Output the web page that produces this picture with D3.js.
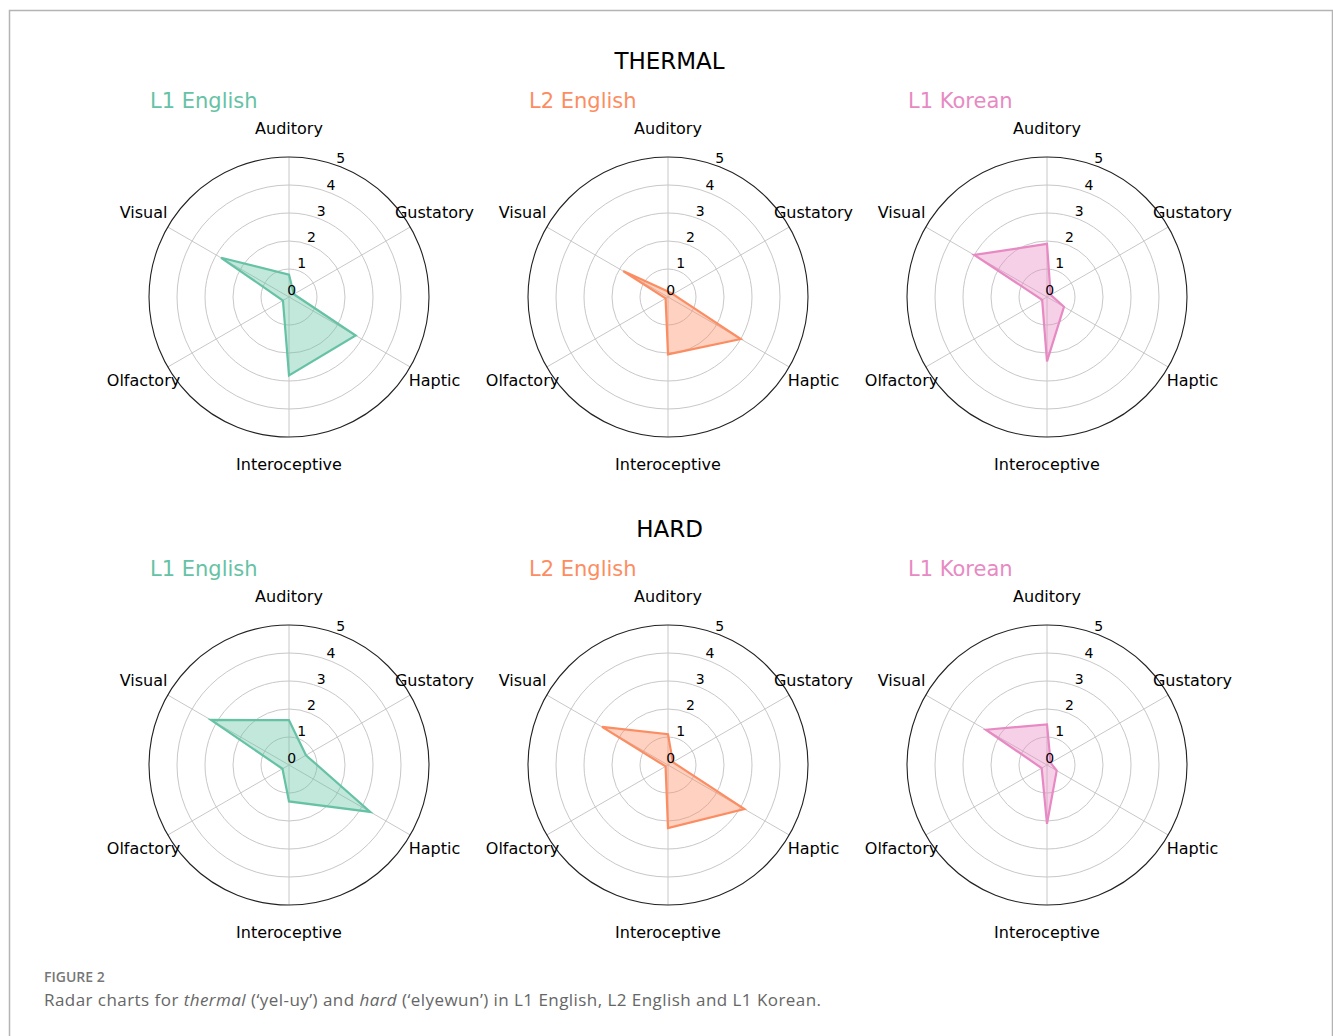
<!DOCTYPE html>
<html>
<head>
<meta charset="utf-8">
<script src="https://cdn.jsdelivr.net/npm/d3@7"></script>
<style>
  html, body { margin: 0; padding: 0; background: #fff; }
  svg { display: block; }
</style>
</head>
<body>
<svg id="fig" width="1333" height="1036"></svg>
<script>
// Sensory dimensions, clockwise from the top
const dimensions = ["Auditory", "Gustatory", "Haptic", "Interoceptive", "Olfactory", "Visual"];
const groups = ["L1 English", "L2 English", "L1 Korean"];
const groupColors = ["#66c2a5", "#fc8d62", "#e78ac3"];
const rTicks = [0, 1, 2, 3, 4, 5];

// Mean ratings per dimension (order as in `dimensions`)
const thermalL1English = [0.8, 0.2, 2.75, 2.8, 0.25, 2.8];
const thermalL2English = [0.2, 0.2, 3.0, 2.05, 0.1, 1.85];
const thermalL1Korean  = [1.9, 0.15, 0.7, 2.3, 0.2, 3.0];
const hardL1English    = [1.6, 0.7, 3.35, 1.3, 0.27, 3.22];
const hardL2English    = [1.1, 0.2, 3.15, 2.25, 0.1, 2.72];
const hardL1Korean     = [1.45, 0.15, 0.4, 2.1, 0.22, 2.52];

const panels = [
  { title: "THERMAL", series: [thermalL1English, thermalL2English, thermalL1Korean] },
  { title: "HARD",    series: [hardL1English, hardL2English, hardL1Korean] }
];

const svg = d3.select("#fig");
const W = 1333;
const R = 140;
const colX = [289, 668, 1047];
const rowY = [297, 765];
const axisFont = "'DejaVu Sans', sans-serif";

// Frame around the figure
svg.append("path")
  .attr("d", "M9.5,1036 V10.5 H1332.5 V1036")
  .attr("fill", "none")
  .attr("stroke", "#b4b4b4")
  .attr("stroke-width", 1.5);

const r = d3.scaleLinear().domain([0, 5]).range([0, R]);
const angle = d3.scalePoint().domain(dimensions).range([0, 2 * Math.PI * 5 / 6]);

const radial = d3.lineRadial()
  .angle((d, i) => angle(dimensions[i]))
  .radius(d => r(d))
  .curve(d3.curveLinearClosed);

panels.forEach((panel, row) => {
  svg.append("text")
    .attr("x", W / 2 + 3)
    .attr("y", rowY[row] - 236)
    .attr("text-anchor", "middle")
    .attr("dominant-baseline", "central")
    .attr("font-family", axisFont)
    .attr("font-size", 23)
    .attr("fill", "#000")
    .text(panel.title);

  panel.series.forEach((values, col) => {
    const g = svg.append("g")
      .attr("transform", `translate(${colX[col]},${rowY[row]})`);

    // group title, left aligned with the polar frame
    g.append("text")
      .attr("x", -R + 1)
      .attr("y", -196)
      .attr("dominant-baseline", "central")
      .attr("font-family", axisFont)
      .attr("font-size", 21)
      .attr("fill", groupColors[col])
      .text(groups[col]);

    // circular grid
    g.selectAll("circle.grid")
      .data(rTicks.filter(t => t > 0 && t < 5))
      .join("circle")
      .attr("class", "grid")
      .attr("r", d => r(d))
      .attr("fill", "none")
      .attr("stroke", "#c8c8c8")
      .attr("stroke-width", 1);

    // spokes
    g.selectAll("line.spoke")
      .data(dimensions)
      .join("line")
      .attr("class", "spoke")
      .attr("x1", 0).attr("y1", 0)
      .attr("x2", d => r(5) * Math.sin(angle(d)))
      .attr("y2", d => -r(5) * Math.cos(angle(d)))
      .attr("stroke", "#c8c8c8")
      .attr("stroke-width", 1);

    // outer boundary
    g.append("circle")
      .attr("r", r(5))
      .attr("fill", "none")
      .attr("stroke", "#222")
      .attr("stroke-width", 1.1);

    // data polygon
    g.append("path")
      .datum(values)
      .attr("d", radial)
      .attr("fill", groupColors[col])
      .attr("fill-opacity", 0.4)
      .attr("stroke", groupColors[col])
      .attr("stroke-width", 2.2)
      .attr("stroke-linejoin", "miter");

    // radial tick labels
    const tickAngle = 20.5 * Math.PI / 180;
    g.selectAll("text.rtick")
      .data(rTicks)
      .join("text")
      .attr("class", "rtick")
      .attr("x", d => (r(d) + 8) * Math.sin(tickAngle))
      .attr("y", d => -(r(d) + 8) * Math.cos(tickAngle))
      .attr("text-anchor", "middle")
      .attr("dominant-baseline", "central")
      .attr("font-family", axisFont)
      .attr("font-size", 14)
      .attr("fill", "#000")
      .text(d => d);

    // dimension labels
    g.selectAll("text.dim")
      .data(dimensions)
      .join("text")
      .attr("class", "dim")
      .attr("x", d => r(6) * Math.sin(angle(d)))
      .attr("y", d => -r(6) * Math.cos(angle(d)) - 0.5)
      .attr("text-anchor", "middle")
      .attr("dominant-baseline", "central")
      .attr("font-family", axisFont)
      .attr("font-size", 16)
      .attr("fill", "#000")
      .text(d => d);
  });
});

// Caption
svg.append("text")
  .attr("x", 44)
  .attr("y", 982)
  .attr("font-family", "'Open Sans', sans-serif")
  .attr("font-weight", 600)
  .attr("font-size", 14)
  .attr("fill", "#777")
  .text("FIGURE 2");

const cap = svg.append("text")
  .attr("x", 44)
  .attr("y", 1006)
  .attr("font-family", "'Open Sans', sans-serif")
  .attr("font-size", 17)
  .attr("letter-spacing", 0.45)
  .attr("fill", "#666");
cap.append("tspan").text("Radar charts for ");
cap.append("tspan").attr("font-style", "italic").text("thermal");
cap.append("tspan").text(" (\u2018yel-uy\u2019) and ");
cap.append("tspan").attr("font-style", "italic").text("hard");
cap.append("tspan").text(" (\u2018elyewun\u2019) in L1 English, L2 English and L1 Korean.");
</script>
</body>
</html>
